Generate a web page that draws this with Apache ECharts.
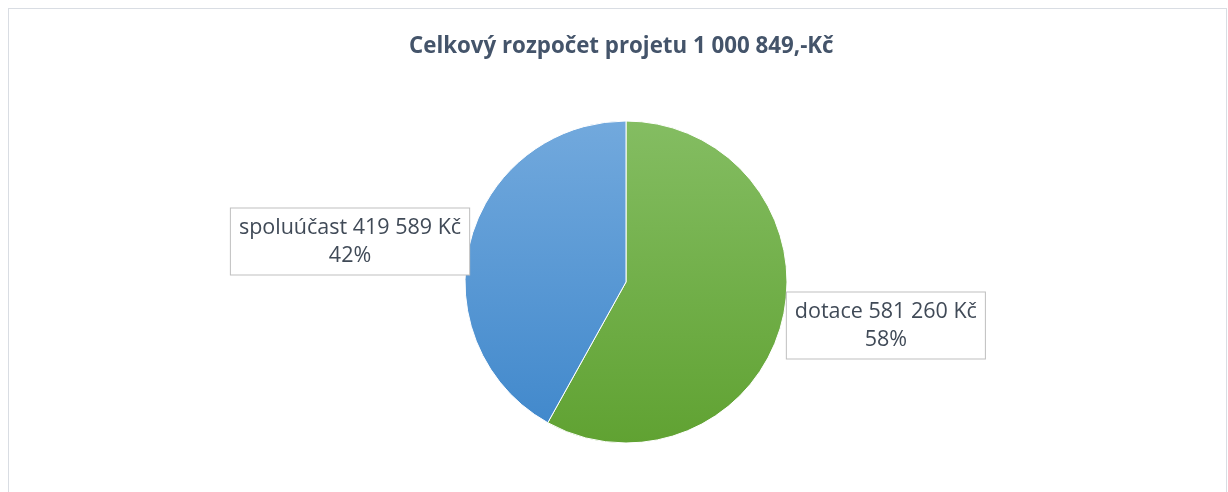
<!DOCTYPE html>
<html>
<head>
<meta charset="utf-8">
<script src="https://cdn.jsdelivr.net/npm/echarts@6/dist/echarts.min.js"></script>
<style>
html,body{margin:0;padding:0;background:#fff;}
#frame{position:absolute;left:8px;top:8px;width:1219px;height:500px;border:1px solid #d9dde3;box-sizing:border-box;}
#chart{position:absolute;left:0;top:0;width:1228px;height:492px;}
</style>
</head>
<body>
<div id="frame"></div>
<div id="chart"></div>
<script>
const titleText = 'Celkový rozpočet projetu 1 000 849,-Kč';
const categories = ['dotace', 'spoluúčast'];
const values = [581260, 419589];
const colorsTop = ['#84bd62', '#72a9dd'];
const colorsBottom = ['#60a232', '#4289cc'];

function fmt(n) {
  return String(n).replace(/\B(?=(\d{3})+(?!\d))/g, ' ');
}

const chart = echarts.init(document.getElementById('chart'), null, {renderer: 'canvas'});
chart.setOption({
  animation: false,
  title: {
    text: titleText,
    left: 404,
    top: 31,
    textStyle: {fontFamily: 'Open Sans', fontWeight: 'bold', fontSize: 22.3, color: '#44546a'}
  },
  series: [{
    type: 'pie',
    center: [626, 282],
    radius: [0, 161],
    startAngle: 90,
    clockwise: true,
    percentPrecision: 0,
    data: categories.map((c, i) => ({
      name: c,
      value: values[i],
      itemStyle: {
        color: new echarts.graphic.LinearGradient(0, 0, 0, 1, [
          {offset: 0, color: colorsTop[i]},
          {offset: 1, color: colorsBottom[i]}
        ])
      }
    })),
    itemStyle: {borderColor: '#ffffff', borderWidth: 1},
    label: {
      show: true,
      position: 'outside',
      formatter: p => '{t|' + p.name + ' ' + fmt(p.value) + ' Kč}\n{t|' + p.percent + '%}',
      rich: {
        t: {
          fontFamily: 'Open Sans',
          fontSize: 21.5,
          lineHeight: 28,
          color: '#404a57',
          align: 'center'
        }
      },
      backgroundColor: '#ffffff',
      borderColor: '#bfbfbf',
      borderWidth: 1,
      padding: [5, 8, 5, 8]
    },
    labelLine: {show: false, length: 0, length2: 0},
    labelLayout: function (params) {
      const left = params.labelRect.x + params.labelRect.width / 2 < 626;
      return left ? {dx: 4, dy: 0} : {dx: 0, dy: 3};
    }
  }]
});
</script>
</body>
</html>
